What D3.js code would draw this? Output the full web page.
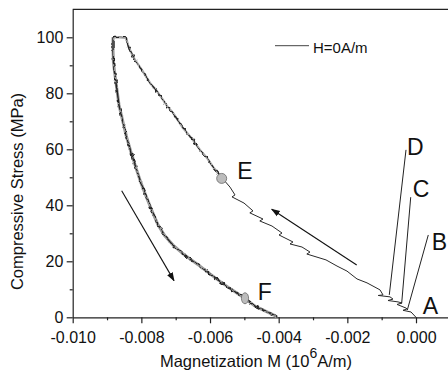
<!DOCTYPE html>
<html>
<head>
<meta charset="utf-8">
<script src="https://cdn.jsdelivr.net/npm/d3@7"></script>
<style>
  body { margin: 0; background: #fff; }
  svg { display: block; }
  text { font-family: "Liberation Sans", Arial, sans-serif; fill: #111; }
</style>
</head>
<body>
<svg id="chart" width="448" height="381"></svg>
<script>
// axis ticks
const xMajor = [-0.010, -0.008, -0.006, -0.004, -0.002, 0.000];
const xMinor = [-0.009, -0.007, -0.005, -0.003, -0.001];
const yMajor = [0, 20, 40, 60, 80, 100];
const yMinor = [10, 30, 50, 70, 90];

// loading branch, A -> top (M in 10^6 A/m, stress in MPa)
const loadingBranch = [
  [0.000000, 0.0], [-0.000146, 1.9], [-0.000379, 2.5], [-0.000262, 3.0],
  [-0.000291, 3.3], [-0.000553, 4.6], [-0.000408, 5.1], [-0.000524, 5.5],
  [-0.000816, 6.0], [-0.000670, 6.5], [-0.000757, 7.3], [-0.001100, 7.8],
  [-0.000961, 8.0], [-0.001049, 9.8], [-0.001427, 12.3], [-0.001719, 13.7],
  [-0.002010, 16.5], [-0.002301, 18.3], [-0.002622, 20.5], [-0.003180, 22.6],
  [-0.003088, 23.3], [-0.003321, 25.1], [-0.003670, 26.2], [-0.003583, 26.9],
  [-0.003990, 29.4], [-0.003903, 30.1], [-0.004195, 32.6], [-0.004550, 34.4],
  [-0.004457, 35.1], [-0.004840, 37.3], [-0.004748, 38.0], [-0.005010, 40.8],
  [-0.005360, 43.0], [-0.005272, 43.7], [-0.005418, 46.5], [-0.005622, 49.4],
  [-0.005913, 53.7], [-0.006088, 56.9], [-0.006292, 59.8], [-0.006496, 63.3],
  [-0.006787, 67.6], [-0.007078, 73.0], [-0.007253, 75.5], [-0.007428, 78.7],
  [-0.007574, 81.2], [-0.007748, 83.7], [-0.007981, 88.3], [-0.008185, 91.9],
  [-0.008360, 96.2], [-0.008447, 99.8], [-0.008622, 100.0], [-0.008826, 100.0]
];

// unloading branch, top -> zero stress
const unloadingBranch = [
  [-0.008826, 100.0], [-0.008826, 95.5], [-0.008812, 90.8], [-0.008768, 86.5],
  [-0.008710, 81.2], [-0.008651, 75.8], [-0.008564, 71.2], [-0.008448, 65.1],
  [-0.008302, 59.0], [-0.008156, 53.3], [-0.008011, 48.0], [-0.007865, 43.3],
  [-0.007690, 38.0], [-0.007515, 33.0], [-0.007311, 29.0], [-0.007078, 25.8],
  [-0.006816, 23.0], [-0.006583, 20.8], [-0.006292, 18.3], [-0.006001, 15.5],
  [-0.005651, 12.3], [-0.005360, 9.8], [-0.004981, 6.7], [-0.004690, 4.0],
  [-0.004399, 2.3], [-0.004108, 0.6], [-0.004050, 0.0]
];

// point labels: [name, M, stress] text anchor (left, baseline)
const pointLabels = [
  ["A", 0.000195, 1.2], ["B", 0.000457, 24.0], ["C", -0.000096, 43.1],
  ["D", -0.000262, 58.0], ["E", -0.005205, 49.4], ["F", -0.004611, 6.2]
];
// leader lines for B, C, D: [M1, s1, M2, s2]
const leaders = [
  [-0.000291, 59.8, -0.000778, 8.0],
  [-0.000154, 42.9, -0.000417, 5.0],
  [0.000358, 29.4, -0.000253, 2.6]
];
// direction arrows: [tailM, tailS, headM, headS]
const arrows = [
  [-0.001727, 18.7, -0.004203, 38.6],
  [-0.008573, 45.2, -0.007049, 13.1]
];
// markers E (circle) and F (ellipse)
const markerE = [-0.005660, 49.6];
const markerF = [-0.004981, 6.8];

const svg = d3.select("#chart");
const plotLeft = 72.7, plotBottom = 317.3, plotTop = 9.3;
const x = d3.scaleLinear().domain([-0.010, 0.001]).range([plotLeft, plotLeft + 343.3 * 1.1]);
const y = d3.scaleLinear().domain([0, 110]).range([plotBottom, plotTop]);

const defs = svg.append("defs");
// jagged rendering for the noisy parts of the record
const rough = defs.append("filter").attr("id", "rough")
  .attr("x", "-10%").attr("y", "-10%").attr("width", "120%").attr("height", "120%");
rough.append("feTurbulence").attr("type", "fractalNoise")
  .attr("baseFrequency", 0.3).attr("numOctaves", 1).attr("seed", 7).attr("result", "noise");
rough.append("feDisplacementMap").attr("in", "SourceGraphic").attr("in2", "noise")
  .attr("scale", 6).attr("xChannelSelector", "R").attr("yChannelSelector", "G");

defs.append("marker")
  .attr("id", "head").attr("viewBox", "0 0 10 10").attr("refX", 9).attr("refY", 5)
  .attr("markerWidth", 9).attr("markerHeight", 9).attr("markerUnits", "userSpaceOnUse")
  .attr("orient", "auto")
  .append("path").attr("d", "M0,1.5 L10,5 L0,8.5 Z").attr("fill", "#111");

// frame top line
svg.append("line")
  .attr("x1", plotLeft).attr("x2", 448).attr("y1", y(110)).attr("y2", y(110))
  .attr("stroke", "#222").attr("stroke-width", 1.2);

// axes
svg.append("g").attr("transform", `translate(0,${plotBottom})`)
  .call(d3.axisBottom(x).tickValues(xMajor).tickSize(6).tickSizeOuter(0)
    .tickPadding(8.3).tickFormat(d => d.toFixed(3)));
svg.append("g").attr("transform", `translate(0,${plotBottom})`)
  .call(d3.axisBottom(x).tickValues(xMinor).tickSize(3).tickSizeOuter(0).tickFormat(""))
  .select(".domain").remove();
svg.append("g").attr("transform", `translate(${plotLeft},0)`)
  .call(d3.axisLeft(y).tickValues(yMajor).tickSize(6).tickSizeOuter(0).tickPadding(3.4));
svg.append("g").attr("transform", `translate(${plotLeft},0)`)
  .call(d3.axisLeft(y).tickValues(yMinor).tickSize(3).tickSizeOuter(0).tickFormat(""))
  .select(".domain").remove();
svg.selectAll(".domain, .tick line").attr("stroke", "#222").attr("stroke-width", 1.2);
svg.selectAll(".tick text").attr("font-size", 16).attr("font-family", '"Liberation Sans", Arial, sans-serif').attr("fill", "#111");

// axis titles
const xt = svg.append("text").attr("x", 256).attr("y", 367).attr("text-anchor", "middle").attr("font-size", 16.5);
xt.append("tspan").text("Magnetization M (10");
xt.append("tspan").attr("dy", -9).attr("font-size", 14).text("6");
xt.append("tspan").attr("dy", 9).text("A/m)");
svg.append("text")
  .attr("transform", "translate(23,191.5) rotate(-90)")
  .attr("text-anchor", "middle").attr("font-size", 16.5)
  .text("Compressive Stress (MPa)");

const line = d3.line().x(d => x(d[0])).y(d => y(d[1]));
const upperNoisy = loadingBranch.filter(d => d[1] >= 49);

// grey bands under the noisy parts
svg.append("path").datum(unloadingBranch).attr("d", line)
  .attr("fill", "none").attr("stroke", "#9a9a9a").attr("stroke-width", 3)
  .attr("stroke-linejoin", "round");
svg.append("path").datum(upperNoisy).attr("d", line)
  .attr("fill", "none").attr("stroke", "#a5a5a5").attr("stroke-width", 2.2)
  .attr("stroke-linejoin", "round");
// jagged dark strokes on top
svg.append("path").datum(unloadingBranch).attr("d", line)
  .attr("fill", "none").attr("stroke", "#222").attr("stroke-width", 1.3)
  .attr("filter", "url(#rough)");
svg.append("path").datum(upperNoisy).attr("d", line)
  .attr("fill", "none").attr("stroke", "#222").attr("stroke-width", 1.2)
  .attr("filter", "url(#rough)");

svg.append("path").datum(loadingBranch.filter(d => d[1] <= 50)).attr("d", line)
  .attr("fill", "none").attr("stroke", "#2a2a2a").attr("stroke-width", 1);

// leader lines
svg.selectAll(".leader").data(leaders).enter().append("line")
  .attr("x1", d => x(d[0])).attr("y1", d => y(d[1]))
  .attr("x2", d => x(d[2])).attr("y2", d => y(d[3]))
  .attr("stroke", "#222").attr("stroke-width", 1);

// arrows
svg.selectAll(".arrow").data(arrows).enter().append("line")
  .attr("x1", d => x(d[0])).attr("y1", d => y(d[1]))
  .attr("x2", d => x(d[2])).attr("y2", d => y(d[3]))
  .attr("stroke", "#111").attr("stroke-width", 1.1)
  .attr("marker-end", "url(#head)");

// markers
svg.append("circle").attr("cx", x(markerE[0])).attr("cy", y(markerE[1])).attr("r", 5)
  .attr("fill", "#bcbcbc").attr("stroke", "#6a6a6a").attr("stroke-width", 0.8);
svg.append("ellipse").attr("cx", x(markerF[0])).attr("cy", y(markerF[1])).attr("rx", 3.6).attr("ry", 5.5)
  .attr("fill", "#bcbcbc").attr("stroke", "#6a6a6a").attr("stroke-width", 0.8);

// point labels
svg.selectAll(".plabel").data(pointLabels).enter().append("text")
  .attr("x", d => x(d[1])).attr("y", d => y(d[2]))
  .attr("font-size", 23).text(d => d[0]);

// legend
svg.append("line").attr("x1", 275).attr("x2", 309).attr("y1", 45.7).attr("y2", 45.7)
  .attr("stroke", "#444").attr("stroke-width", 1);
svg.append("text").attr("x", 313).attr("y", 52.7).attr("font-size", 15).text("H=0A/m");
</script>
</body>
</html>
